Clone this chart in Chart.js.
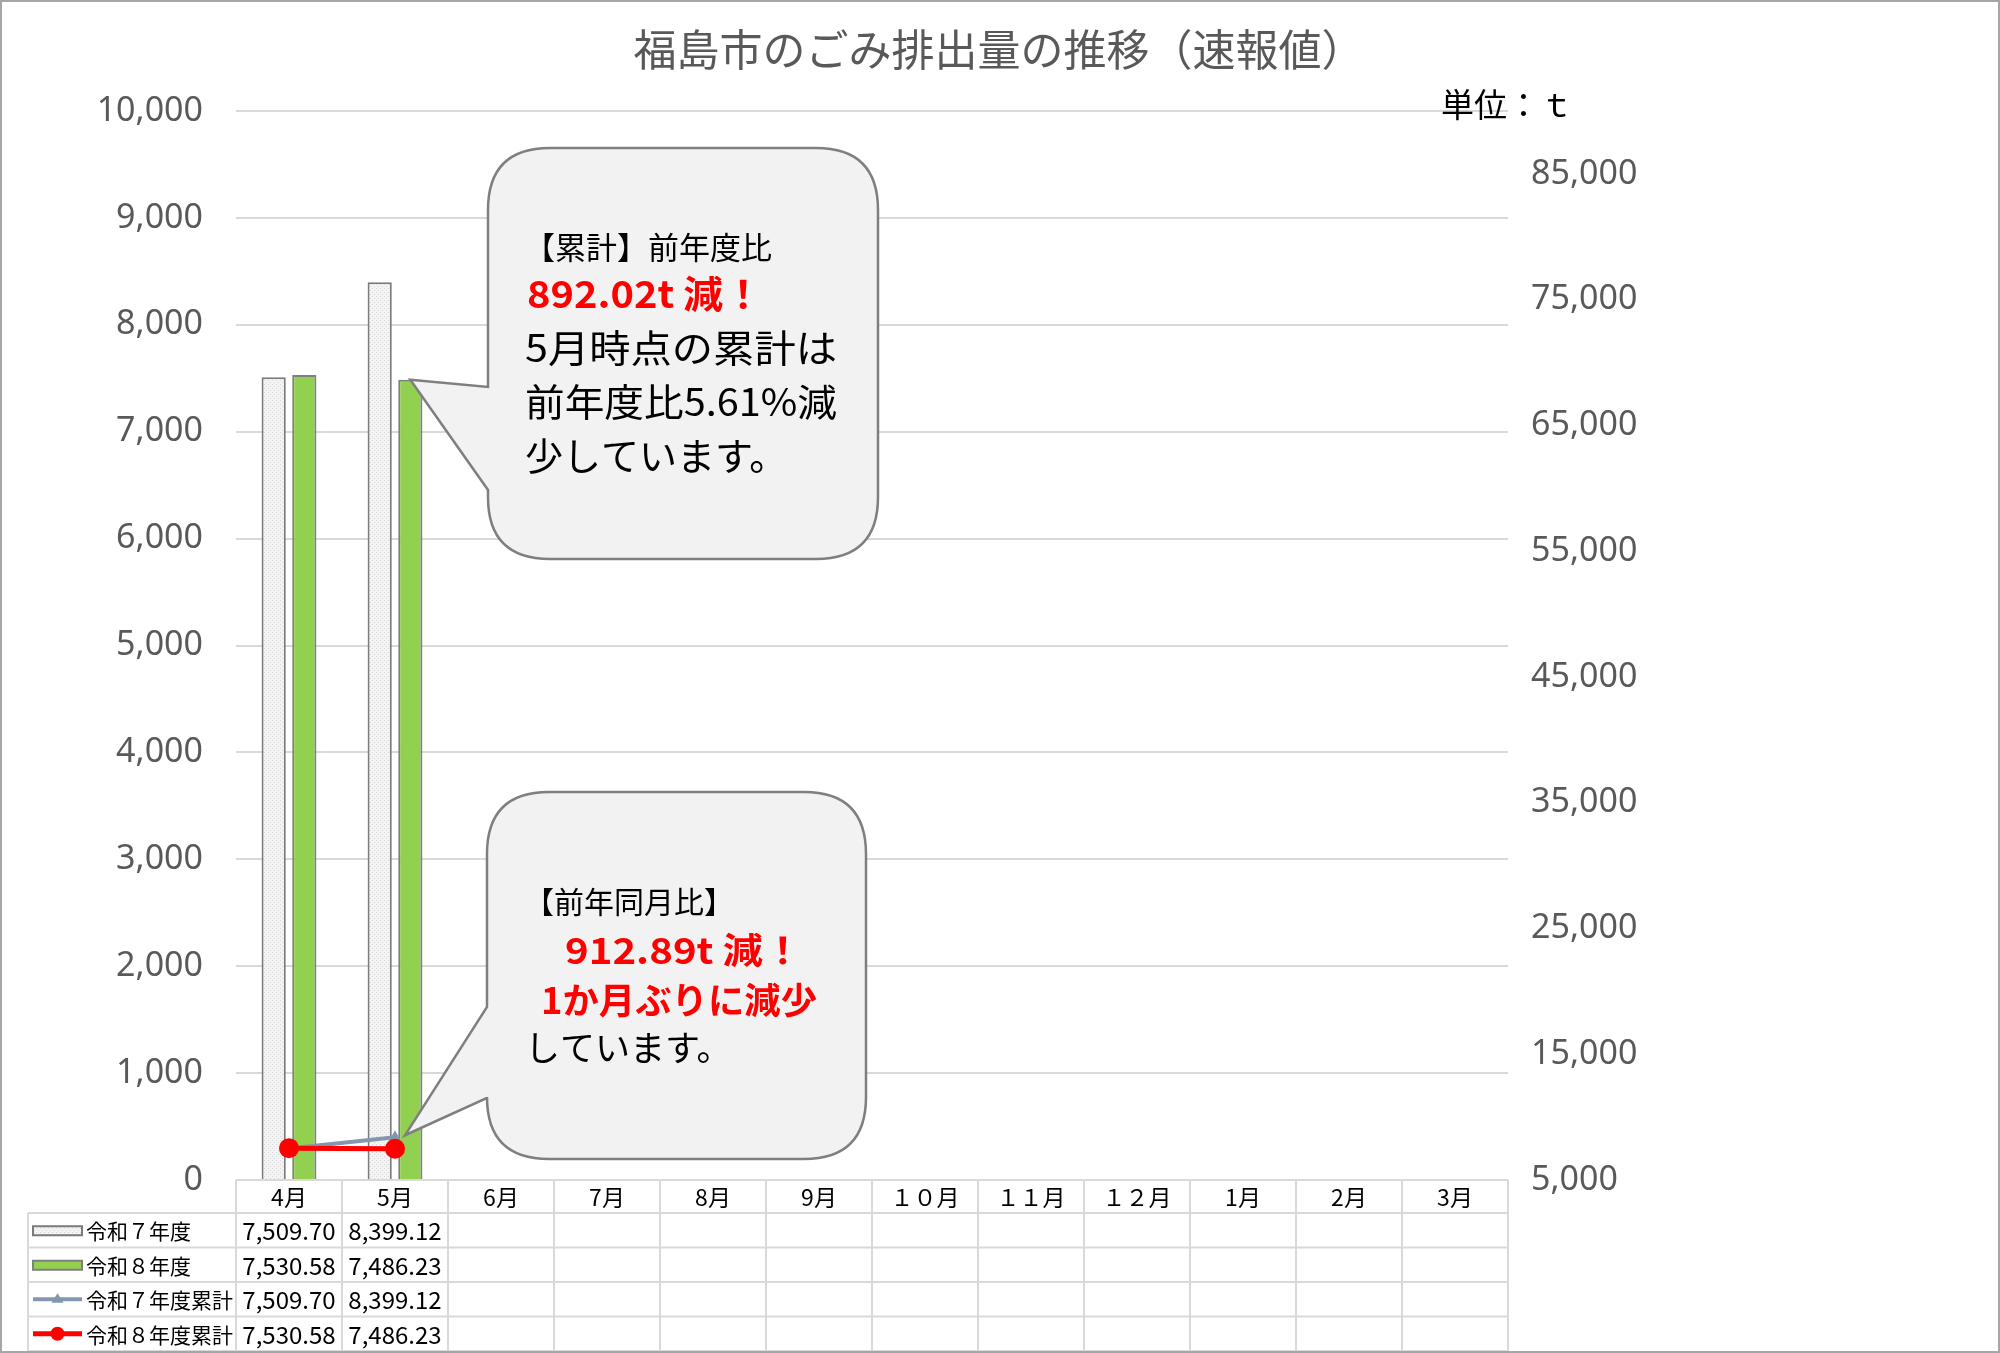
<!DOCTYPE html>
<html><head><meta charset="utf-8">
<script src="https://cdn.jsdelivr.net/npm/chart.js@4.4.0/dist/chart.umd.min.js"></script>
<style>html,body{margin:0;padding:0;background:#fff;}canvas{display:block;}</style>
</head><body>
<canvas id="c" width="2000" height="1353"></canvas>
<script>
// ---- data ----
const months = ['4月','5月','6月','7月','8月','9月','１０月','１１月','１２月','1月','2月','3月'];
const r7Monthly = [7509.70, 8399.12, null, null, null, null, null, null, null, null, null, null];
const r8Monthly = [7530.58, 7486.23, null, null, null, null, null, null, null, null, null, null];
const r7Cumulative = [7509.70, 8399.12, null, null, null, null, null, null, null, null, null, null];
const r8Cumulative = [7530.58, 7486.23, null, null, null, null, null, null, null, null, null, null];
const seriesNames = ['令和７年度', '令和８年度', '令和７年度累計', '令和８年度累計'];
const leftTickValues = [0, 1000, 2000, 3000, 4000, 5000, 6000, 7000, 8000, 9000, 10000];
const rightTickValues = [5000, 15000, 25000, 35000, 45000, 55000, 65000, 75000, 85000];
const chartTitle = '福島市のごみ排出量の推移（速報値）';
const unitLabel = '単位：ｔ';
const callout1Lines = ['【累計】前年度比', '892.02t 減！', '5月時点の累計は', '前年度比5.61%減', '少しています。'];
const callout2Lines = ['【前年同月比】', '912.89t 減！', '1か月ぶりに減少', 'しています。'];

const JP = '"Noto Sans CJK JP", "Noto Sans", sans-serif';

// dotted pattern for 令和7年度 bars
function makePattern() {
  const p = document.createElement('canvas');
  p.width = 4; p.height = 4;
  const g = p.getContext('2d');
  g.fillStyle = '#f4f4f4'; g.fillRect(0, 0, 4, 4);
  g.fillStyle = '#d6d6d6';
  g.fillRect(0, 0, 1, 1); g.fillRect(2, 2, 1, 1);
  return g.createPattern(p, 'repeat');
}
const r7Pattern = makePattern();

function fitText(ctx, text, x, y, font, color, targetW) {
  ctx.save();
  ctx.font = font; ctx.fillStyle = color;
  ctx.textAlign = 'left'; ctx.textBaseline = 'middle';
  if (targetW) {
    const w = ctx.measureText(text).width;
    ctx.translate(x, y); ctx.scale(targetW / w, 1);
    ctx.fillText(text, 0, 0);
  } else {
    ctx.fillText(text, x, y);
  }
  ctx.restore();
}

function calloutPath(ctx, x, y, w, h, r, b1, b2, tx, ty) {
  ctx.beginPath();
  ctx.moveTo(x + r, y);
  ctx.lineTo(x + w - r, y);
  ctx.quadraticCurveTo(x + w, y, x + w, y + r);
  ctx.lineTo(x + w, y + h - r);
  ctx.quadraticCurveTo(x + w, y + h, x + w - r, y + h);
  ctx.lineTo(x + r, y + h);
  ctx.quadraticCurveTo(x, y + h, x, y + h - r);
  ctx.lineTo(x, b2);
  ctx.lineTo(tx, ty);
  ctx.lineTo(x, b1);
  ctx.lineTo(x, y + r);
  ctx.quadraticCurveTo(x, y, x + r, y);
  ctx.closePath();
  ctx.fillStyle = '#f2f2f2';
  ctx.fill();
  ctx.lineWidth = 2.5;
  ctx.strokeStyle = '#7f7f7f';
  ctx.stroke();
}

const decor = {
  id: 'decor',
  afterDatasetsDraw(chart) {
    const ctx = chart.ctx;
    // callout 1 -> top of 令和8年度 5月 bar
    const bar = chart.getDatasetMeta(3).data[1];
    calloutPath(ctx, 488, 148, 390, 411, 62, 387, 490, bar.x, bar.y);
    fitText(ctx, callout1Lines[0], 524, 247, '31px ' + JP, '#000');
    fitText(ctx, callout1Lines[1], 527, 294, 'bold 38px ' + JP, '#ff0000', 236);
    fitText(ctx, callout1Lines[2], 525, 348, '38px ' + JP, '#000', 312);
    fitText(ctx, callout1Lines[3], 525, 402, '38px ' + JP, '#000', 312);
    fitText(ctx, callout1Lines[4], 525, 456, '38px ' + JP, '#000');
    // callout 2 -> 令和7年度累計 5月 point
    const pt = chart.getDatasetMeta(1).data[1];
    calloutPath(ctx, 487, 792, 379, 367, 62, 1007, 1098, pt.x + 10, pt.y - 2);
    fitText(ctx, callout2Lines[0], 524, 902, '30px ' + JP, '#000');
    fitText(ctx, callout2Lines[1], 565, 950, 'bold 36px ' + JP, '#ff0000', 238);
    fitText(ctx, callout2Lines[2], 541, 1000, 'bold 36px ' + JP, '#ff0000', 276);
    fitText(ctx, callout2Lines[3], 525, 1048, '35px ' + JP, '#000');
  },
  afterDraw(chart) {
    const ctx = chart.ctx;
    const ca = chart.chartArea;
    const xs = chart.scales.x;
    const colW = (ca.right - ca.left) / months.length;
    const tableLeft = 28;
    const headerBottom = ca.bottom + 33;
    const rowH = 34.5;
    ctx.save();
    // title & unit
    ctx.font = '43px ' + JP; ctx.fillStyle = '#595959';
    ctx.textAlign = 'center'; ctx.textBaseline = 'middle';
    ctx.fillText(chartTitle, 999, 50);
    fitText(ctx, unitLabel, 1441, 104, '33px ' + JP, '#000');

    // table grid
    ctx.strokeStyle = '#d9d9d9'; ctx.lineWidth = 2;
    ctx.beginPath();
    ctx.moveTo(ca.left, ca.bottom); ctx.lineTo(ca.right, ca.bottom);
    for (let r = 0; r <= 4; r++) {
      const y = headerBottom + r * rowH;
      ctx.moveTo(tableLeft, y); ctx.lineTo(ca.right, y);
    }
    for (let i = 0; i <= months.length; i++) {
      const x = ca.left + i * colW;
      ctx.moveTo(x, ca.bottom); ctx.lineTo(x, headerBottom + 4 * rowH);
    }
    ctx.moveTo(tableLeft, headerBottom); ctx.lineTo(tableLeft, headerBottom + 4 * rowH);
    ctx.stroke();

    // header labels
    ctx.fillStyle = '#000'; ctx.textAlign = 'center'; ctx.textBaseline = 'middle';
    ctx.font = '23px ' + JP;
    months.forEach((m, i) => ctx.fillText(m, xs.getPixelForValue(i), ca.bottom + 17));

    // rows
    const series = [r7Monthly, r8Monthly, r7Cumulative, r8Cumulative];
    const fmt = v => v == null ? '' : v.toLocaleString('en-US', {minimumFractionDigits: 2, maximumFractionDigits: 2});
    series.forEach((arr, r) => {
      const cy = headerBottom + r * rowH + rowH / 2;
      ctx.font = '24px ' + JP; ctx.textAlign = 'center'; ctx.fillStyle = '#000';
      arr.forEach((v, i) => { if (v != null) ctx.fillText(fmt(v), xs.getPixelForValue(i), cy + 1); });
      // legend key
      const ds = chart.data.datasets.find(d => d.label === seriesNames[r]);
      const kx = 33, kw = 49;
      if (ds.type === 'bar') {
        ctx.fillStyle = ds.backgroundColor; ctx.strokeStyle = ds.borderColor; ctx.lineWidth = 2;
        ctx.fillRect(kx, cy - 4, kw, 9); ctx.strokeRect(kx, cy - 4, kw, 9);
      } else {
        ctx.strokeStyle = ds.borderColor; ctx.lineWidth = ds.borderWidth;
        ctx.beginPath(); ctx.moveTo(kx, cy); ctx.lineTo(kx + kw, cy); ctx.stroke();
        ctx.fillStyle = ds.pointBackgroundColor;
        ctx.beginPath();
        if (ds.pointStyle === 'triangle') {
          const s = 6;
          ctx.moveTo(kx + kw / 2, cy - s); ctx.lineTo(kx + kw / 2 + s, cy + s * 0.6); ctx.lineTo(kx + kw / 2 - s, cy + s * 0.6);
        } else {
          ctx.arc(kx + kw / 2, cy, 7, 0, Math.PI * 2);
        }
        ctx.closePath(); ctx.fill();
      }
      ctx.font = '21px ' + JP; ctx.textAlign = 'left'; ctx.fillStyle = '#000';
      ctx.fillText(seriesNames[r], 86, cy + 1);
    });

    // outer border
    ctx.strokeStyle = '#a6a6a6'; ctx.lineWidth = 2;
    ctx.strokeRect(1, 1, chart.width - 2, chart.height - 2);
    ctx.restore();
  }
};

new Chart(document.getElementById('c'), {
  data: {
    labels: months,
    datasets: [
      { type: 'line', label: seriesNames[3], data: r8Cumulative, yAxisID: 'y2', order: 0,
        borderColor: '#ff0000', backgroundColor: '#ff0000', borderWidth: 5,
        pointStyle: 'circle', pointRadius: 10, pointBackgroundColor: '#ff0000', pointBorderWidth: 0, spanGaps: false },
      { type: 'line', label: seriesNames[2], data: r7Cumulative, yAxisID: 'y2', order: 1,
        borderColor: '#8497b0', backgroundColor: '#8497b0', borderWidth: 4,
        pointStyle: 'triangle', pointRadius: 7, pointBackgroundColor: '#8497b0', pointBorderWidth: 0, spanGaps: false },
      { type: 'bar', label: seriesNames[0], data: r7Monthly, yAxisID: 'y', order: 2,
        backgroundColor: r7Pattern, borderColor: '#7a7a7a', borderWidth: 2,
        categoryPercentage: 0.578, barPercentage: 0.79 },
      { type: 'bar', label: seriesNames[1], data: r8Monthly, yAxisID: 'y', order: 3,
        backgroundColor: '#92d050', borderColor: '#7f7f7f', borderWidth: 2,
        categoryPercentage: 0.578, barPercentage: 0.79 }
    ]
  },
  options: {
    responsive: false, devicePixelRatio: 1, animation: false,
    layout: { padding: { top: 111, left: 0, right: 0, bottom: 0 } },
    plugins: { legend: { display: false }, tooltip: { enabled: false }, title: { display: false } },
    scales: {
      x: { type: 'category', offset: true, grid: { display: false, drawTicks: false }, border: { display: false },
           ticks: { display: false }, afterFit(s) { s.height = 173; } },
      y: { position: 'left', min: 0, max: 10000,
           afterBuildTicks(s) { s.ticks = leftTickValues.map(v => ({ value: v })); },
           grid: { color: '#d9d9d9', lineWidth: 2, drawTicks: false }, border: { display: false },
           ticks: { padding: 33, color: '#595959', font: { family: 'Noto Sans', size: 34 },
                    callback: v => v.toLocaleString('en-US') },
           afterFit(s) { s.width = 236; } },
      y2: { position: 'right', min: 5000, max: 90000,
            afterBuildTicks(s) { s.ticks = rightTickValues.map(v => ({ value: v })); },
            grid: { display: false, drawTicks: false }, border: { display: false },
            ticks: { padding: 23, color: '#595959', font: { family: 'Noto Sans', size: 34 },
                     callback: v => v.toLocaleString('en-US') },
            afterFit(s) { s.width = 492; } }
    }
  },
  plugins: [decor]
});
</script>
</body></html>
